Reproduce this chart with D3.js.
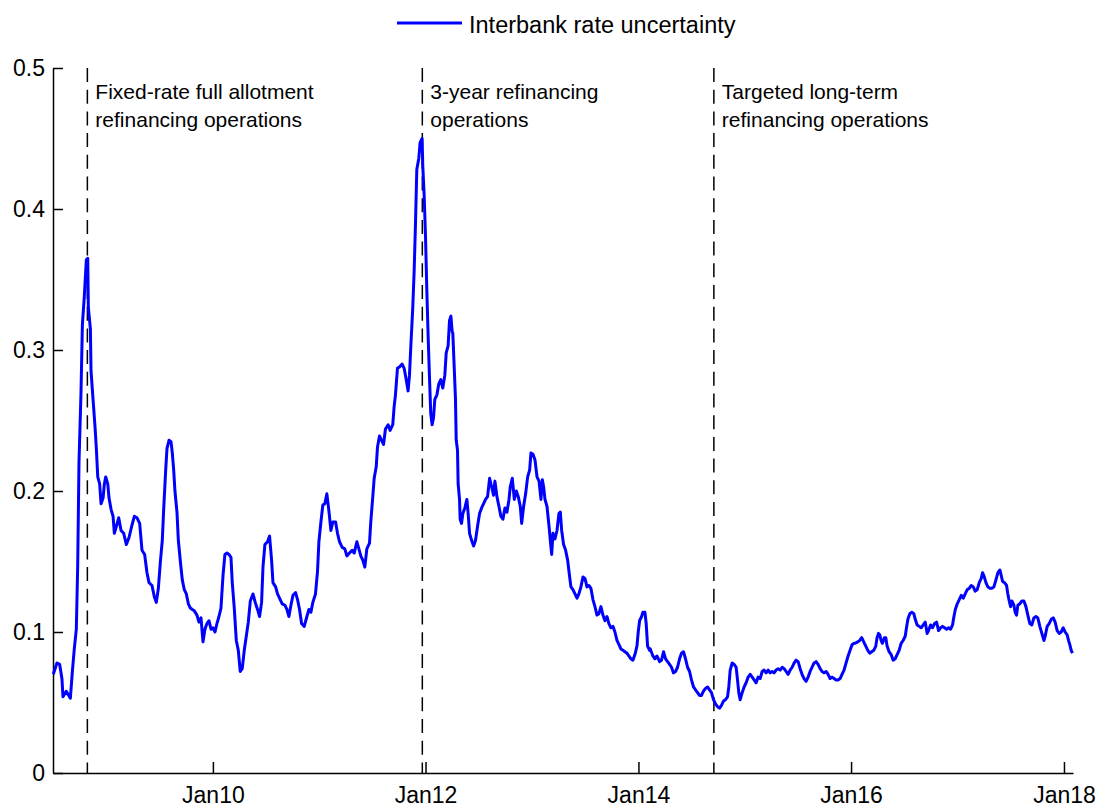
<!DOCTYPE html>
<html>
<head>
<meta charset="utf-8">
<script src="https://cdn.jsdelivr.net/npm/d3@7"></script>
<style>
  body { margin: 0; background: #fff; }
  svg { display: block; font-family: "Liberation Sans", Arial, sans-serif; }
</style>
</head>
<body>
<svg id="chart" width="1100" height="807"></svg>
<script>
// decimal-year positions and values
const years = [
  2008.500, 2008.534, 2008.560, 2008.581, 2008.591, 2008.622, 2008.660, 2008.679, 2008.697, 2008.716,
  2008.729, 2008.741, 2008.760, 2008.773, 2008.791, 2008.810, 2008.823, 2008.829, 2008.848, 2008.854,
  2008.873, 2008.892, 2008.904, 2008.917, 2008.935, 2008.948, 2008.967, 2008.979, 2008.992, 2009.011,
  2009.023, 2009.042, 2009.061, 2009.073, 2009.092, 2009.114, 2009.136, 2009.161, 2009.186, 2009.211,
  2009.236, 2009.261, 2009.286, 2009.311, 2009.333, 2009.358, 2009.380, 2009.399, 2009.427, 2009.449,
  2009.468, 2009.487, 2009.506, 2009.524, 2009.537, 2009.556, 2009.568, 2009.587, 2009.606, 2009.618,
  2009.631, 2009.643, 2009.662, 2009.675, 2009.694, 2009.712, 2009.731, 2009.750, 2009.769, 2009.788,
  2009.806, 2009.825, 2009.850, 2009.869, 2009.888, 2009.907, 2009.925, 2009.944, 2009.963, 2009.982,
  2010.001, 2010.020, 2010.038, 2010.057, 2010.076, 2010.095, 2010.113, 2010.132, 2010.151, 2010.170,
  2010.182, 2010.201, 2010.220, 2010.239, 2010.257, 2010.276, 2010.295, 2010.314, 2010.333, 2010.352,
  2010.377, 2010.398, 2010.420, 2010.439, 2010.458, 2010.471, 2010.489, 2010.514, 2010.533, 2010.552,
  2010.565, 2010.590, 2010.608, 2010.633, 2010.652, 2010.677, 2010.696, 2010.715, 2010.734, 2010.753,
  2010.778, 2010.796, 2010.815, 2010.834, 2010.859, 2010.884, 2010.903, 2010.922, 2010.940, 2010.965,
  2010.984, 2010.997, 2011.016, 2011.034, 2011.053, 2011.072, 2011.091, 2011.110, 2011.128, 2011.154,
  2011.172, 2011.191, 2011.216, 2011.241, 2011.260, 2011.285, 2011.310, 2011.329, 2011.354, 2011.373,
  2011.391, 2011.410, 2011.429, 2011.448, 2011.473, 2011.485, 2011.504, 2011.517, 2011.536, 2011.548,
  2011.567, 2011.586, 2011.605, 2011.623, 2011.648, 2011.667, 2011.692, 2011.705, 2011.717, 2011.736,
  2011.755, 2011.780, 2011.799, 2011.818, 2011.836, 2011.849, 2011.862, 2011.880, 2011.893, 2011.905,
  2011.918, 2011.937, 2011.949, 2011.968, 2011.974, 2011.987, 2011.999, 2012.012, 2012.024, 2012.037,
  2012.049, 2012.062, 2012.075, 2012.087, 2012.106, 2012.125, 2012.143, 2012.162, 2012.181, 2012.194,
  2012.212, 2012.225, 2012.238, 2012.250, 2012.256, 2012.269, 2012.281, 2012.288, 2012.300, 2012.306,
  2012.319, 2012.325, 2012.338, 2012.350, 2012.369, 2012.388, 2012.400, 2012.413, 2012.432, 2012.451,
  2012.469, 2012.488, 2012.507, 2012.526, 2012.545, 2012.563, 2012.582, 2012.601, 2012.620, 2012.638,
  2012.651, 2012.670, 2012.689, 2012.707, 2012.726, 2012.745, 2012.764, 2012.783, 2012.795, 2012.814,
  2012.833, 2012.852, 2012.870, 2012.889, 2012.902, 2012.920, 2012.939, 2012.958, 2012.977, 2012.989,
  2013.008, 2013.027, 2013.046, 2013.065, 2013.083, 2013.096, 2013.108, 2013.121, 2013.140, 2013.159,
  2013.171, 2013.184, 2013.196, 2013.215, 2013.234, 2013.252, 2013.265, 2013.278, 2013.296, 2013.315,
  2013.334, 2013.353, 2013.365, 2013.384, 2013.403, 2013.422, 2013.440, 2013.459, 2013.478, 2013.497,
  2013.516, 2013.534, 2013.553, 2013.572, 2013.591, 2013.610, 2013.628, 2013.647, 2013.666, 2013.685,
  2013.704, 2013.722, 2013.741, 2013.760, 2013.779, 2013.798, 2013.817, 2013.835, 2013.854, 2013.873,
  2013.892, 2013.910, 2013.929, 2013.948, 2013.967, 2013.986, 2013.998, 2014.011, 2014.030, 2014.042,
  2014.061, 2014.073, 2014.086, 2014.105, 2014.111, 2014.136, 2014.155, 2014.174, 2014.199, 2014.217,
  2014.236, 2014.255, 2014.274, 2014.293, 2014.311, 2014.330, 2014.349, 2014.368, 2014.387, 2014.405,
  2014.424, 2014.443, 2014.462, 2014.481, 2014.499, 2014.518, 2014.537, 2014.556, 2014.575, 2014.593,
  2014.612, 2014.631, 2014.650, 2014.669, 2014.687, 2014.706, 2014.725, 2014.744, 2014.763, 2014.781,
  2014.800, 2014.819, 2014.838, 2014.850, 2014.863, 2014.882, 2014.900, 2014.919, 2014.932, 2014.944,
  2014.957, 2014.976, 2014.994, 2015.013, 2015.032, 2015.051, 2015.070, 2015.088, 2015.107, 2015.126,
  2015.145, 2015.164, 2015.182, 2015.201, 2015.220, 2015.239, 2015.258, 2015.276, 2015.295, 2015.314,
  2015.333, 2015.352, 2015.370, 2015.389, 2015.408, 2015.427, 2015.446, 2015.464, 2015.483, 2015.502,
  2015.521, 2015.539, 2015.558, 2015.577, 2015.596, 2015.615, 2015.633, 2015.652, 2015.671, 2015.690,
  2015.709, 2015.727, 2015.746, 2015.765, 2015.784, 2015.803, 2015.821, 2015.840, 2015.859, 2015.878,
  2015.897, 2015.915, 2015.934, 2015.953, 2015.972, 2015.991, 2016.009, 2016.028, 2016.038, 2016.063,
  2016.081, 2016.100, 2016.119, 2016.138, 2016.157, 2016.175, 2016.194, 2016.213, 2016.232, 2016.244,
  2016.257, 2016.269, 2016.282, 2016.294, 2016.313, 2016.326, 2016.338, 2016.357, 2016.376, 2016.395,
  2016.414, 2016.432, 2016.451, 2016.470, 2016.489, 2016.508, 2016.520, 2016.533, 2016.551, 2016.570,
  2016.589, 2016.602, 2016.620, 2016.639, 2016.658, 2016.677, 2016.696, 2016.714, 2016.727, 2016.746,
  2016.764, 2016.783, 2016.802, 2016.821, 2016.840, 2016.858, 2016.877, 2016.896, 2016.915, 2016.934,
  2016.952, 2016.965, 2016.978, 2016.996, 2017.015, 2017.034, 2017.053, 2017.071, 2017.090, 2017.109,
  2017.128, 2017.147, 2017.165, 2017.184, 2017.203, 2017.222, 2017.234, 2017.247, 2017.266, 2017.284,
  2017.303, 2017.322, 2017.341, 2017.360, 2017.378, 2017.397, 2017.410, 2017.422, 2017.441, 2017.460,
  2017.472, 2017.485, 2017.498, 2017.510, 2017.529, 2017.541, 2017.554, 2017.566, 2017.585, 2017.604,
  2017.623, 2017.642, 2017.660, 2017.679, 2017.698, 2017.717, 2017.736, 2017.754, 2017.773, 2017.792,
  2017.811, 2017.823, 2017.842, 2017.861, 2017.880, 2017.899, 2017.917, 2017.936, 2017.955, 2017.974,
  2017.993, 2018.011, 2018.030, 2018.043, 2018.055, 2018.068, 2018.080
];

const uncertainty = [
  0.070, 0.078, 0.077, 0.067, 0.054, 0.058, 0.053, 0.072, 0.088, 0.102,
  0.147, 0.220, 0.270, 0.318, 0.338, 0.364, 0.365, 0.330, 0.315, 0.285,
  0.265, 0.245, 0.230, 0.210, 0.205, 0.191, 0.195, 0.205, 0.210, 0.205,
  0.195, 0.187, 0.182, 0.170, 0.175, 0.181, 0.172, 0.170, 0.162, 0.167,
  0.175, 0.182, 0.181, 0.177, 0.158, 0.155, 0.142, 0.135, 0.133, 0.125,
  0.121, 0.131, 0.150, 0.165, 0.187, 0.215, 0.230, 0.236, 0.235, 0.227,
  0.215, 0.200, 0.185, 0.165, 0.150, 0.137, 0.130, 0.127, 0.120, 0.117,
  0.116, 0.115, 0.112, 0.107, 0.110, 0.093, 0.102, 0.106, 0.108, 0.102,
  0.103, 0.100, 0.106, 0.111, 0.117, 0.140, 0.155, 0.156, 0.155, 0.153,
  0.135, 0.117, 0.094, 0.087, 0.072, 0.074, 0.087, 0.097, 0.107, 0.122,
  0.127, 0.121, 0.116, 0.111, 0.121, 0.146, 0.162, 0.164, 0.168, 0.151,
  0.135, 0.132, 0.127, 0.123, 0.120, 0.119, 0.116, 0.111, 0.119, 0.126,
  0.128, 0.123, 0.116, 0.106, 0.104, 0.111, 0.116, 0.114, 0.121, 0.127,
  0.143, 0.164, 0.178, 0.190, 0.191, 0.198, 0.186, 0.172, 0.178, 0.178,
  0.170, 0.164, 0.160, 0.159, 0.154, 0.156, 0.158, 0.156, 0.164, 0.159,
  0.154, 0.151, 0.146, 0.159, 0.163, 0.178, 0.196, 0.209, 0.217, 0.231,
  0.239, 0.236, 0.233, 0.244, 0.247, 0.243, 0.247, 0.260, 0.268, 0.287,
  0.288, 0.290, 0.287, 0.279, 0.271, 0.282, 0.303, 0.330, 0.356, 0.388,
  0.428, 0.436, 0.447, 0.450, 0.431, 0.410, 0.383, 0.343, 0.311, 0.281,
  0.255, 0.247, 0.252, 0.265, 0.268, 0.276, 0.279, 0.273, 0.282, 0.298,
  0.303, 0.321, 0.324, 0.313, 0.312, 0.288, 0.265, 0.236, 0.229, 0.205,
  0.194, 0.180, 0.177, 0.184, 0.188, 0.194, 0.184, 0.170, 0.165, 0.161,
  0.165, 0.175, 0.184, 0.188, 0.191, 0.194, 0.196, 0.209, 0.203, 0.197,
  0.207, 0.196, 0.189, 0.182, 0.180, 0.188, 0.185, 0.194, 0.203, 0.209,
  0.194, 0.200, 0.196, 0.189, 0.177, 0.189, 0.198, 0.210, 0.215, 0.227,
  0.226, 0.222, 0.210, 0.207, 0.194, 0.208, 0.203, 0.194, 0.189, 0.175,
  0.165, 0.155, 0.170, 0.166, 0.172, 0.184, 0.185, 0.172, 0.162, 0.158,
  0.151, 0.139, 0.132, 0.130, 0.127, 0.124, 0.127, 0.132, 0.139, 0.138,
  0.132, 0.133, 0.131, 0.123, 0.118, 0.112, 0.113, 0.118, 0.112, 0.108,
  0.111, 0.106, 0.103, 0.104, 0.100, 0.094, 0.091, 0.088, 0.087, 0.086,
  0.085, 0.083, 0.081, 0.080, 0.084, 0.090, 0.100, 0.108, 0.111, 0.114,
  0.114, 0.106, 0.090, 0.087, 0.088, 0.083, 0.081, 0.083, 0.079, 0.080,
  0.086, 0.081, 0.079, 0.077, 0.075, 0.071, 0.072, 0.075, 0.081, 0.085,
  0.086, 0.081, 0.075, 0.072, 0.066, 0.061, 0.059, 0.057, 0.055, 0.055,
  0.058, 0.060, 0.061, 0.059, 0.057, 0.052, 0.049, 0.047, 0.046, 0.048,
  0.051, 0.052, 0.054, 0.061, 0.073, 0.078, 0.077, 0.075, 0.066, 0.057,
  0.052, 0.057, 0.061, 0.064, 0.068, 0.070, 0.068, 0.066, 0.064, 0.068,
  0.067, 0.072, 0.073, 0.071, 0.073, 0.071, 0.072, 0.071, 0.073, 0.074,
  0.073, 0.075, 0.074, 0.072, 0.070, 0.073, 0.075, 0.078, 0.080, 0.079,
  0.074, 0.070, 0.067, 0.065, 0.068, 0.072, 0.075, 0.078, 0.079, 0.077,
  0.074, 0.072, 0.071, 0.072, 0.070, 0.067, 0.068, 0.067, 0.066, 0.066,
  0.067, 0.070, 0.073, 0.078, 0.083, 0.087, 0.091, 0.092, 0.092, 0.093,
  0.094, 0.096, 0.093, 0.090, 0.087, 0.085, 0.086, 0.087, 0.090, 0.096,
  0.099, 0.098, 0.094, 0.092, 0.096, 0.096, 0.090, 0.086, 0.084, 0.080,
  0.081, 0.084, 0.087, 0.092, 0.094, 0.097, 0.103, 0.109, 0.113, 0.114,
  0.113, 0.109, 0.105, 0.104, 0.103, 0.105, 0.107, 0.099, 0.101, 0.105,
  0.103, 0.106, 0.107, 0.101, 0.103, 0.104, 0.103, 0.102, 0.103, 0.102,
  0.105, 0.111, 0.116, 0.120, 0.123, 0.126, 0.124, 0.127, 0.130, 0.131,
  0.133, 0.132, 0.129, 0.130, 0.135, 0.138, 0.142, 0.140, 0.135, 0.132,
  0.131, 0.131, 0.132, 0.137, 0.142, 0.144, 0.140, 0.136, 0.135, 0.133,
  0.127, 0.122, 0.118, 0.122, 0.119, 0.114, 0.112, 0.119, 0.120, 0.122,
  0.122, 0.118, 0.112, 0.106, 0.105, 0.110, 0.111, 0.110, 0.104, 0.099,
  0.094, 0.097, 0.104, 0.106, 0.109, 0.110, 0.107, 0.101, 0.099, 0.100,
  0.103, 0.100, 0.098, 0.094, 0.091, 0.087, 0.085
];

const eventDates = ["2008-10-27", "2011-12-21", "2014-09-17"];
const eventLabels = [
  ["Fixed-rate full allotment", "refinancing operations"],
  ["3-year refinancing", "operations"],
  ["Targeted long-term", "refinancing operations"]
];
const xTickDates = ["2010-01-01", "2012-01-01", "2014-01-01", "2016-01-01", "2018-01-01"];
const yTicks = [0, 0.1, 0.2, 0.3, 0.4, 0.5];
const seriesName = "Interbank rate uncertainty";

const parseDate = d3.timeParse("%Y-%m-%d");

// turn a decimal year (e.g. 2011.968) into a Date
function yearToDate(y) {
  const yr = Math.floor(y);
  const start = new Date(yr, 0, 1);
  const end = new Date(yr + 1, 0, 1);
  return new Date(+start + (y - yr) * (end - start));
}

const data = years.map((y, i) => ({ date: yearToDate(y), value: uncertainty[i] }));

const margin = { top: 68, right: 27, bottom: 34, left: 53 };
const width = 1100;
const height = 807;

const svg = d3.select("#chart");

const x = d3.scaleTime()
  .domain([parseDate("2008-07-01"), parseDate("2018-02-01")])
  .range([margin.left, width - margin.right]);

const y = d3.scaleLinear()
  .domain([0, 0.5])
  .range([height - margin.bottom, margin.top]);

// axes, MATLAB style: ticks point inward
const xAxis = d3.axisBottom(x)
  .tickValues(xTickDates.map(parseDate))
  .tickFormat(d3.timeFormat("%b%y"))
  .tickSizeInner(-11)
  .tickSizeOuter(0)
  .tickPadding(14);

const yAxis = d3.axisLeft(y)
  .tickValues(yTicks)
  .tickFormat(d => d === 0 ? "0" : d3.format(".1f")(d))
  .tickSizeInner(-10)
  .tickSizeOuter(0)
  .tickPadding(8);

const gx = svg.append("g")
  .attr("transform", `translate(0,${height - margin.bottom})`)
  .call(xAxis);

const gy = svg.append("g")
  .attr("transform", `translate(${margin.left},0)`)
  .call(yAxis);

[gx, gy].forEach(g => {
  g.select(".domain").attr("stroke", "#000").attr("stroke-width", 1.5);
  g.selectAll(".tick line").attr("stroke", "#000").attr("stroke-width", 1.5);
  g.selectAll(".tick text")
    .attr("fill", "#000")
    .style("font-size", "23px")
    .style("font-family", "'Liberation Sans', Arial, sans-serif");
});

// event markers
const events = svg.append("g").attr("class", "events");

eventDates.forEach((d, i) => {
  const xe = x(parseDate(d));
  events.append("line")
    .attr("x1", xe).attr("x2", xe)
    .attr("y1", y(0.5)).attr("y2", y(0))
    .attr("stroke", "#000")
    .attr("stroke-width", 1.5)
    .attr("stroke-dasharray", "14,7.7");

  const t = events.append("text")
    .attr("x", xe + 8)
    .attr("y", 99)
    .style("font-size", "21px")
    .attr("fill", "#000");
  eventLabels[i].forEach((line, j) => {
    t.append("tspan")
      .attr("x", xe + 8)
      .attr("dy", j === 0 ? 0 : 27.7)
      .text(line);
  });
});

// series line
const line = d3.line()
  .x(d => x(d.date))
  .y(d => y(d.value));

svg.append("path")
  .datum(data)
  .attr("fill", "none")
  .attr("stroke", "#0000ff")
  .attr("stroke-width", 3)
  .attr("stroke-linejoin", "round")
  .attr("d", line);

// legend
const legend = svg.append("g").attr("class", "legend");
legend.append("line")
  .attr("x1", 397).attr("x2", 462)
  .attr("y1", 23).attr("y2", 23)
  .attr("stroke", "#0000ff")
  .attr("stroke-width", 3);
legend.append("text")
  .attr("x", 469)
  .attr("y", 33)
  .style("font-size", "23.5px")
  .attr("fill", "#000")
  .text(seriesName);
</script>
</body>
</html>
